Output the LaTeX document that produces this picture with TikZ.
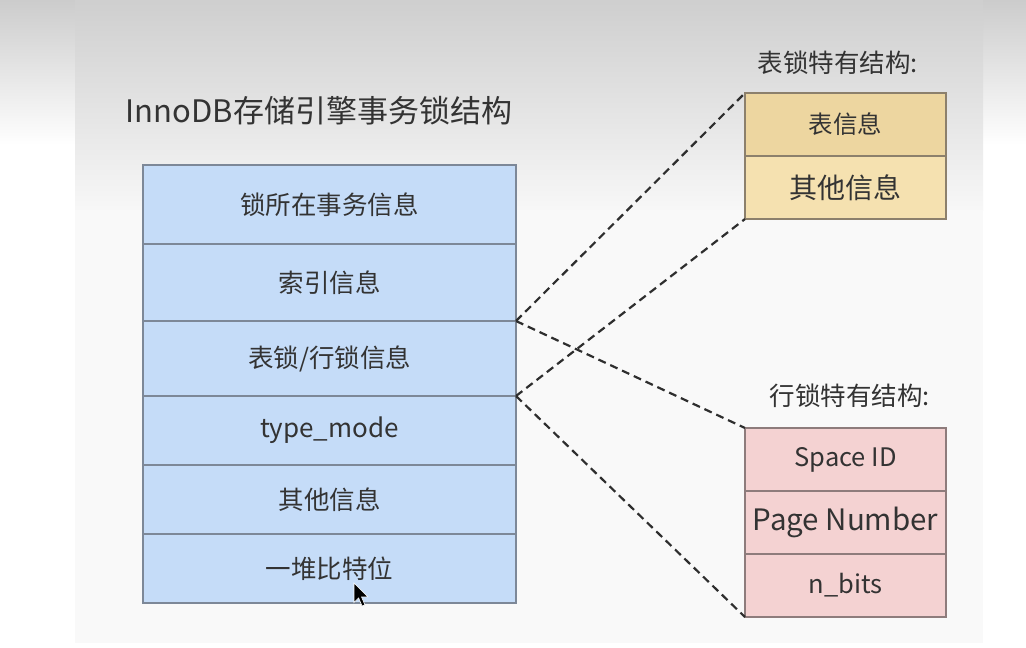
\documentclass[tikz,border=0pt]{standalone}
\usepackage{fontspec}
\setmainfont{Noto Sans CJK SC}
\begin{document}
\begin{tikzpicture}[x=1pt,y=-1pt,
  cell/.style={draw, rectangle, inner sep=0pt, outer sep=0pt, line width=1.3pt, text=black!80, anchor=center},
  bluecell/.style={cell, fill=blue1, draw=blueline, minimum width=373pt},
  tancell/.style={cell, draw=tanline, minimum width=201pt, minimum height=63pt},
  pinkcell/.style={cell, fill=pink1, draw=pinkline, minimum width=201pt, minimum height=63pt},
  link/.style={draw=black!82, line width=2.2pt, dash pattern=on 8pt off 5pt},
  lbl/.style={text=black!80, inner sep=0pt, anchor=center}
]
\definecolor{blue1}{HTML}{C5DCF8}
\definecolor{blueline}{HTML}{7D8898}
\definecolor{tan1}{HTML}{EDD6A0}
\definecolor{tan2}{HTML}{F5E1B0}
\definecolor{tanline}{HTML}{8C806C}
\definecolor{pink1}{HTML}{F4D2D2}
\definecolor{pinkline}{HTML}{8E7C7C}
\useasboundingbox (0,0) rectangle (1026,648);
% background
\fill[white] (0,0) rectangle (1026,648);
\shade[top color=black!20, bottom color=white] (0,0) rectangle (1026,145);
\shade[top color=black!19, bottom color=black!3] (75,0) rectangle (983,210);
\fill[black!2.5] (75,210) rectangle (983,643);
% title
\node[lbl] (title) at (319,111) {\fontsize{31}{36}\selectfont InnoDB存储引擎事务锁结构};
% main structure
\node[bluecell, minimum height=79pt] (m1) at (329.5,204.5) {\fontsize{25.5}{30}\selectfont\raisebox{-1.5pt}{锁所在事务信息}};
\node[bluecell, minimum height=77pt] (m2) at (329.5,282.5) {\fontsize{25.5}{30}\selectfont\raisebox{-1.5pt}{索引信息}};
\node[bluecell, minimum height=75pt] (m3) at (329.5,358.5) {\fontsize{25.5}{30}\selectfont\raisebox{-1.5pt}{表锁/行锁信息}};
\node[bluecell, minimum height=69pt] (m4) at (329.5,430.5) {\fontsize{26}{30}\selectfont\raisebox{-1.5pt}{type\_mode}};
\node[bluecell, minimum height=69pt] (m5) at (329.5,499.5) {\fontsize{25.5}{30}\selectfont\raisebox{-1.5pt}{其他信息}};
\node[bluecell, minimum height=69pt] (m6) at (329.5,568.5) {\fontsize{25.5}{30}\selectfont\raisebox{-1.5pt}{一堆比特位}};
% table lock
\node[lbl] (tlabel) at (838,63) {\fontsize{25.5}{30}\selectfont 表锁特有结构:};
\node[tancell, fill=tan1] (t1) at (845.5,124.5) {\fontsize{24.5}{30}\selectfont\raisebox{-1.5pt}{表信息}};
\node[tancell, fill=tan2] (t2) at (845.5,187.5) {\fontsize{28}{32}\selectfont\raisebox{-1.5pt}{其他信息}};
% row lock
\node[lbl] (rlabel) at (850,396) {\fontsize{25.5}{30}\selectfont 行锁特有结构:};
\node[pinkcell] (r1) at (845.5,459.5) {\fontsize{25.5}{30}\selectfont\raisebox{-1.5pt}{Space ID}};
\node[pinkcell] (r2) at (845.5,522.5) {\fontsize{29.5}{34}\selectfont\raisebox{-1.5pt}{Page Number}};
\node[pinkcell] (r3) at (845.5,585.5) {\fontsize{25.5}{30}\selectfont\raisebox{-1.5pt}{n\_bits}};
% connectors
\draw[link] (m3.north east) -- (t1.north west);
\draw[link] (m3.north east) -- (r1.north west);
\draw[link] (m4.north east) -- (t2.south west);
\draw[link] (m4.north east) -- (r3.south west);
% mouse cursor
\coordinate (cur) at (354,583);
\filldraw[fill=black, draw=white, line width=0.6pt, shift={(cur)}, scale=1.15]
  (0,0) -- (0,17) -- (4,13) -- (7,20) -- (9.5,19) -- (6.5,12) -- (12,12) -- cycle;
\end{tikzpicture}
\end{document}
